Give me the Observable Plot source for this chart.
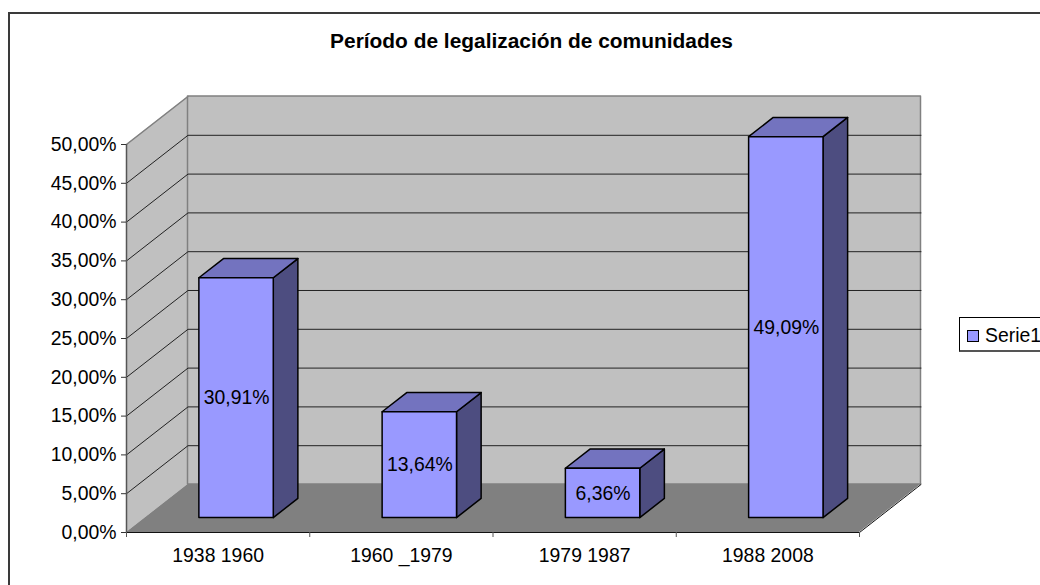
<!DOCTYPE html>
<html><head><meta charset="utf-8">
<script src="https://cdn.jsdelivr.net/npm/d3@7"></script>
<script src="https://cdn.jsdelivr.net/npm/@observablehq/plot@0.6"></script>
<style>
html,body{margin:0;padding:0;background:#fff;overflow:hidden;width:1040px;height:585px;font-family:"Liberation Sans",Arial,sans-serif;color:#000}
#wrap{position:relative;width:1040px;height:585px;overflow:hidden}
#frame{position:absolute;left:8px;top:12px;width:1100px;height:700px;border:2px solid #3a3a3a;box-sizing:border-box}
#title{position:absolute;left:0;width:1063px;top:30px;text-align:center;font-weight:bold;font-size:20.9px;line-height:22px}
.cut{position:absolute;top:-21px;font:bold 19px/22px "Liberation Serif",serif}
#legend{position:absolute;left:959px;top:317px;width:120px;height:35px;border:1px solid #000;border-bottom:2px solid #555;box-sizing:border-box;background:#fff}
#swatch{position:absolute;left:7px;top:12px;width:12px;height:12px;background:#9999ff;border:1.5px solid #000;box-sizing:border-box}
#ltext{position:absolute;left:25px;top:5px;font-size:19.4px;line-height:24px}
svg{position:absolute;left:0;top:0}
</style></head><body>
<div id="wrap">
<div id="frame"></div>
<span class="cut" style="left:358px">(</span><span class="cut" style="left:418px">p</span><span class="cut" style="left:527px">,</span><span class="cut" style="left:680px">)</span>
<div id="title">Período de legalización de comunidades</div>
<div id="legend"><div id="swatch"></div><div id="ltext">Serie1</div></div>
</div>
<script>
const categories = ["1938 1960", "1960 _1979", "1979 1987", "1988 2008"];
const values = [30.91, 13.64, 6.36, 49.09];
const valueLabels = ["30,91%", "13,64%", "6,36%", "49,09%"];
const yTicks = [0, 5, 10, 15, 20, 25, 30, 35, 40, 45, 50];
const gridValues = [5, 10, 15, 20, 25, 30, 35, 40, 45];

// oblique depth of the chart box, expressed in scale units
const depthX = 0.3356, depthY = 6.186;
const barGap = 0.297, depthFront = 0.3, depthBack = 0.7;
const at = (c, v, d) => ({x: c + d * depthX, y: v + d * depthY});

// a face is a two-point band between (x1,y1) and (x2,y2)
const face = (id, a1, a2, b1, b2) => [
  {id, x1: a1.x, y1: a1.y, x2: a2.x, y2: a2.y},
  {id, x1: b1.x, y1: b1.y, x2: b2.x, y2: b2.y}
];
const band = {x1: "x1", y1: "y1", x2: "x2", y2: "y2", z: "id"};

const leftWall = face(0, at(0,0,0), at(0,50,0), at(0,0,1), at(0,50,1));
const backWall = face(0, at(0,0,1), at(0,50,1), at(4,0,1), at(4,50,1));
const floor = face(0, at(0,0,0), at(4,0,0), at(0,0,1), at(4,0,1));
const floorEdge = [at(0,0,0), at(4,0,0), at(4,0,1)];

const gridRows = gridValues.flatMap(v => [at(0,v,0), at(0,v,1), at(4,v,1)].map(p => ({...p, v})));
const wallTop = [at(0,50,0), at(0,50,1)];

const fronts = [], tops = [], sides = [];
values.forEach((v, i) => {
  const l = i + barGap, r = i + 1 - barGap;
  fronts.push(...face(i, at(l,0,depthFront), at(l,v,depthFront), at(r,0,depthFront), at(r,v,depthFront)));
  tops.push(...face(i, at(l,v,depthFront), at(r,v,depthFront), at(l,v,depthBack), at(r,v,depthBack)));
  sides.push(...face(i, at(r,0,depthFront), at(r,v,depthFront), at(r,0,depthBack), at(r,v,depthBack)));
});
const labels = values.map((v, i) => ({...at(i + 0.5, v / 2, depthFront), t: valueLabels[i]}));

const chart = Plot.plot({
  width: 1040, height: 585,
  marginLeft: 126, marginRight: 181, marginTop: 144, marginBottom: 53,
  style: {background: "transparent", fontFamily: '"Liberation Sans",Arial,sans-serif', overflow: "hidden"},
  x: {domain: [0, 4], axis: null},
  y: {domain: [0, 50], axis: null},
  marks: [
    Plot.area(leftWall, {...band, fill: "#c0c0c0"}),
    Plot.area(backWall, {...band, fill: "#c0c0c0", stroke: "#808080", strokeWidth: 1.5}),
    Plot.area(floor, {...band, fill: "#808080"}),
    Plot.line(wallTop, {x: "x", y: "y", stroke: "#808080", strokeWidth: 1.5}),
    Plot.line(gridRows, {x: "x", y: "y", z: "v", stroke: "#222", strokeWidth: 1}),
    Plot.line(floorEdge, {x: "x", y: "y", stroke: "#111", strokeWidth: 1}),
    Plot.ruleX([0], {y1: 0, y2: 50, stroke: "#555", strokeWidth: 1.5}),
    Plot.axisY({ticks: yTicks, tickFormat: d => d.toFixed(2).replace(".", ",") + "%", tickSize: 5, tickPadding: 5, fontSize: 19.4, stroke: "#333", fill: "#000", label: null}),
    Plot.axisX({ticks: [0, 1, 2, 3, 4], text: null, tickSize: 5, stroke: "#555", label: null}),
    Plot.axisX({ticks: [0.5, 1.5, 2.5, 3.5], tickFormat: d => categories[d - 0.5], tickSize: 0, tickPadding: 16, fontSize: 19.4, fill: "#000", label: null}),
    Plot.area(sides, {...band, fill: "#4d4d80", stroke: "#000", strokeWidth: 1.5}),
    Plot.area(tops, {...band, fill: "#7373bf", stroke: "#000", strokeWidth: 1.5}),
    Plot.area(fronts, {...band, fill: "#9999ff", stroke: "#000", strokeWidth: 1.5}),
    Plot.text(labels, {x: "x", y: "y", text: "t", fontSize: 19.4, fill: "#000"})
  ]
});
document.getElementById("wrap").appendChild(chart);
</script>
</body></html>
